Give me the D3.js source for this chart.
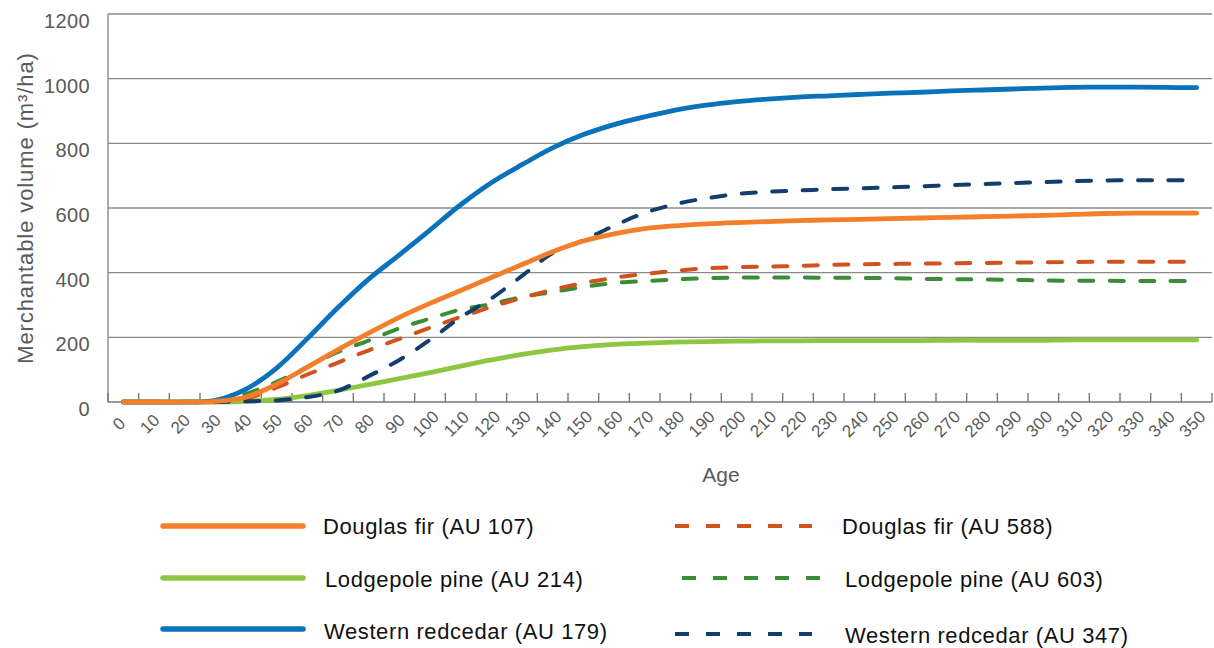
<!DOCTYPE html>
<html>
<head>
<meta charset="utf-8">
<script src="https://cdn.jsdelivr.net/npm/d3@7"></script>
<style>
  html, body { margin: 0; padding: 0; background: #fff; }
  svg { display: block; font-family: "Liberation Sans", Arial, Helvetica, sans-serif; }
</style>
</head>
<body>
<svg id="chart" width="1214" height="648"></svg>
<script>
// ---- data ----
const ages = [0,10,20,30,40,50,60,70,80,90,100,110,120,130,140,150,160,170,180,190,200,210,220,230,240,250,260,270,280,290,300,310,320,330,340,350];
const yTicks = [0,200,400,600,800,1000,1200];

const douglasFir107 = [0,0,0,2,15,55,108,162,213,262,305,345,385,425,465,498,520,536,545,551,555,558,561,563,565,567,569,571,573,575,577,580,583,584,584,584];
const douglasFir588 = [0,0,0,0,10,45,85,122,160,195,230,263,294,322,347,368,384,396,406,413,417,419,421,424,426,427,428,429,430,431,432,433,434,434,434,434];
const lodgepole214  = [0,0,0,0,2,8,20,36,54,72,91,111,130,147,161,171,178,182,185,187,188,189,189,190,190,190,190,191,191,191,191,192,192,192,192,192];
const lodgepole603  = [0,0,0,0,25,62,108,155,190,228,258,286,303,325,340,356,368,374,379,383,385,385,385,384,384,383,381,380,379,378,376,375,375,374,374,374];
const redcedar179   = [0,0,0,5,40,105,196,292,380,455,532,610,678,734,786,827,858,882,903,918,929,937,943,947,951,955,958,962,965,968,971,973,974,974,973,972];
const redcedar347   = [0,0,0,0,2,5,15,35,80,130,192,262,320,390,461,500,545,585,612,630,643,650,654,658,661,664,667,671,674,677,680,683,685,686,686,686];

const seriesNames = ["Douglas fir (AU 107)","Douglas fir (AU 588)","Lodgepole pine (AU 214)","Lodgepole pine (AU 603)","Western redcedar (AU 179)","Western redcedar (AU 347)"];

const series = [
  {name: seriesNames[2], values: lodgepole214, color: "#8dc641", dashed: false},
  {name: seriesNames[3], values: lodgepole603, color: "#3a8d35", dashed: true},
  {name: seriesNames[1], values: douglasFir588, color: "#d0531f", dashed: true},
  {name: seriesNames[5], values: redcedar347, color: "#123e6e", dashed: true},
  {name: seriesNames[4], values: redcedar179, color: "#0a72ba", dashed: false},
  {name: seriesNames[0], values: douglasFir107, color: "#f47f2b", dashed: false}
];

// ---- layout ----
const svg = d3.select("#chart");
const L = 108, R = 1212, T = 14, B = 402;

const x = d3.scaleBand().domain(ages).range([L, R]).paddingInner(0).paddingOuter(0);
const xc = a => x(a) + x.bandwidth() / 2;
const y = d3.scaleLinear().domain([0, 1200]).range([B, T]);

const gridColor = "#8a8a8a";
const textColor = "#5a5a5a";

// gridlines
svg.append("g").selectAll("line").data(yTicks.filter(v => v > 0)).join("line")
  .attr("x1", L).attr("x2", R)
  .attr("y1", d => y(d)).attr("y2", d => y(d))
  .attr("stroke", gridColor).attr("stroke-width", 1.4);

// left axis line
svg.append("line").attr("x1", L).attr("x2", L).attr("y1", T).attr("y2", B)
  .attr("stroke", gridColor).attr("stroke-width", 1.4);

// x axis line + inward ticks at band boundaries
svg.append("line").attr("x1", L).attr("x2", R).attr("y1", B).attr("y2", B)
  .attr("stroke", "#777").attr("stroke-width", 1.6);
const boundaries = ages.map(a => x(a)).concat([R]);
svg.append("g").selectAll("line").data(boundaries).join("line")
  .attr("x1", d => d).attr("x2", d => d)
  .attr("y1", B).attr("y2", B - 9)
  .attr("stroke", "#777").attr("stroke-width", 1.4);

// y tick labels
svg.append("g").selectAll("text").data(yTicks).join("text")
  .attr("x", 90).attr("y", d => y(d) + 14)
  .attr("text-anchor", "end")
  .attr("font-size", 20).attr("letter-spacing", 0.4)
  .attr("fill", textColor)
  .text(d => d);

// x tick labels (rotated)
svg.append("g").selectAll("text").data(ages).join("text")
  .attr("transform", d => `translate(${xc(d) - 4},${424}) rotate(-45)`)
  .attr("text-anchor", "middle")
  .attr("dominant-baseline", "central")
  .attr("font-size", 17).attr("letter-spacing", 0.3)
  .attr("fill", textColor)
  .text(d => d);

// axis titles
svg.append("text")
  .attr("transform", "translate(33,208) rotate(-90)")
  .attr("text-anchor", "middle")
  .attr("font-size", 22).attr("letter-spacing", 0.9)
  .attr("fill", textColor)
  .text("Merchantable volume (m³/ha)");

svg.append("text")
  .attr("x", 721).attr("y", 482)
  .attr("text-anchor", "middle")
  .attr("font-size", 21)
  .attr("fill", textColor)
  .text("Age");

// lines
const line = d3.line()
  .x((d, i) => xc(ages[i]))
  .y(d => y(d))
  .curve(d3.curveCatmullRom.alpha(0.5));

svg.append("g").selectAll("path").data(series).join("path")
  .attr("d", d => line(d.values))
  .attr("fill", "none")
  .attr("stroke", d => d.color)
  .attr("stroke-width", d => d.dashed ? 4 : 4.8)
  .attr("stroke-linecap", "round")
  .attr("stroke-linejoin", "round")
  .attr("stroke-dasharray", d => d.dashed ? "14 16.5" : null);

// legend
const legendItems = [
  {s: series[5], lx1: 163, lx2: 303, ly: 526, tx: 323, ty: 526},
  {s: series[0], lx1: 163, lx2: 303, ly: 578, tx: 325, ty: 579},
  {s: series[4], lx1: 163, lx2: 303, ly: 629, tx: 324, ty: 631},
  {s: series[2], lx1: 675, lx2: 812, ly: 526, tx: 842, ty: 526},
  {s: series[1], lx1: 682, lx2: 820, ly: 578, tx: 845, ty: 579},
  {s: series[3], lx1: 675, lx2: 812, ly: 634, tx: 845, ty: 635}
];
const lg = svg.append("g").selectAll("g").data(legendItems).join("g");
lg.append("line")
  .attr("x1", d => d.lx1).attr("x2", d => d.lx2)
  .attr("y1", d => d.ly).attr("y2", d => d.ly)
  .attr("stroke", d => d.s.color)
  .attr("stroke-width", d => d.s.dashed ? 4 : 5.5)
  .attr("stroke-linecap", d => d.s.dashed ? "butt" : "round")
  .attr("stroke-dasharray", d => d.s.dashed ? "14 17" : null);
lg.append("text")
  .attr("x", d => d.tx).attr("y", d => d.ty + 8)
  .attr("font-size", 22).attr("letter-spacing", 0.6)
  .attr("fill", "#111")
  .text(d => d.s.name);
</script>
</body>
</html>
